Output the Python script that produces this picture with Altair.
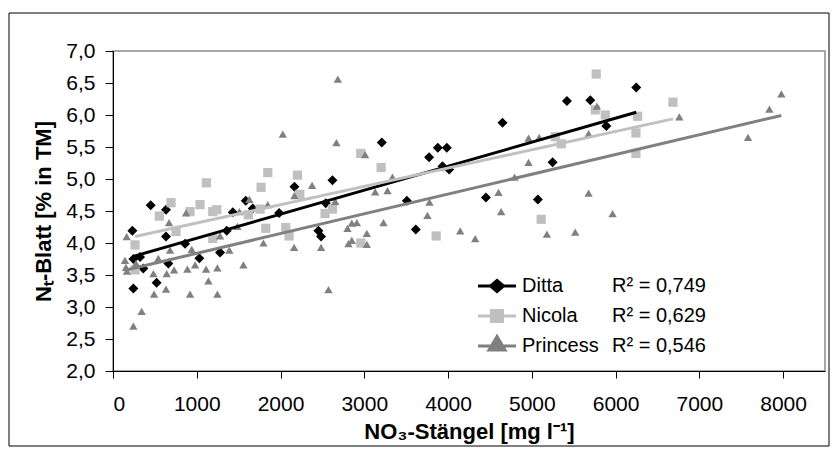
import altair as alt
import pandas as pd

series_names = ["Ditta", "Nicola", "Princess"]
series_colors = ["#000000", "#c0c0c0", "#808080"]
r2_labels = ["R² = 0,749", "R² = 0,629", "R² = 0,546"]

x_ticks = [0, 1000, 2000, 3000, 4000, 5000, 6000, 7000, 8000]
y_ticks = [2.0, 2.5, 3.0, 3.5, 4.0, 4.5, 5.0, 5.5, 6.0, 6.5, 7.0]

ditta_x = [450, 633, 1585, 1668, 1430, 1983, 2540, 231, 633, 1358, 2452, 2484, 2620,
           2166, 860, 243, 323, 362, 661, 521, 243, 1031, 1278, 5419, 5698, 4650,
           3209, 3878, 3985, 3774, 3934, 4013, 5248, 3508, 4452, 5072, 3615, 6247, 5889]
ditta_y = [4.59, 4.52, 4.66, 4.54, 4.48, 4.47, 4.62, 4.19, 4.10, 4.19, 4.19, 4.10, 4.98,
           4.88, 3.99, 3.75, 3.78, 3.60, 3.68, 3.38, 3.29, 3.76, 3.85, 6.22, 6.23, 5.88,
           5.57, 5.49, 5.49, 5.34, 5.20, 5.15, 5.26, 4.66, 4.71, 4.68, 4.21, 6.43, 5.83]

nicola_x = [1848, 1115, 2202, 1768, 693, 553, 1039, 920, 1191, 1239, 1616, 1756, 2532,
            2620, 753, 1824, 2063, 2102, 263, 263, 1191, 2958, 3201, 5280, 5351, 3858,
            5112, 2958, 5769, 5757, 5877, 6685, 6263, 6243, 6243, 2230]
nicola_y = [5.10, 4.94, 5.06, 4.87, 4.63, 4.42, 4.60, 4.49, 4.49, 4.52, 4.44, 4.53, 4.46,
            4.53, 4.18, 4.23, 4.24, 4.11, 3.97, 3.58, 4.07, 5.40, 5.18, 5.66, 5.55, 4.11,
            4.37, 4.00, 6.64, 6.08, 6.00, 6.20, 5.98, 5.72, 5.40, 4.76]

princess_x = [2684, 2027, 2667, 2377, 2166, 872, 1628, 1509, 1848, 2652, 669, 163, 1485,
              2799, 1278, 940, 681, 143, 155, 167, 275, 541, 729, 641, 482, 490, 633,
              342, 243, 888, 980, 920, 1111, 1139, 1246, 1246, 1389, 1557, 1796, 2162,
              2484, 2572, 2811, 3010, 4961, 5088, 5678, 4961, 3336, 3130, 3277, 4794,
              3778, 4602, 4634, 3754, 2851, 2911, 3229, 3030, 4145, 4324, 5180, 5518,
              5678, 2851, 3030, 5777, 6761, 7979, 7836, 7581, 5964]
princess_y = [6.56, 5.70, 5.57, 4.90, 4.74, 4.47, 4.68, 4.49, 4.60, 4.65, 4.32, 4.10, 4.26,
              4.23, 4.11, 3.90, 3.89, 3.73, 3.62, 3.56, 3.68, 3.76, 3.58, 3.52, 3.52, 3.20, 3.28,
              2.93, 2.70, 3.59, 3.66, 3.20, 3.59, 3.41, 3.20, 3.61, 3.89, 3.66, 4.00, 3.93,
              3.93, 3.27, 3.99, 5.38, 5.64, 5.65, 5.71, 5.26, 5.03, 4.80, 4.82, 5.03,
              4.64, 4.79, 4.49, 4.43, 4.31, 4.32, 4.32, 4.15, 4.19, 4.07, 4.14, 4.17,
              4.78, 4.04, 3.98, 6.14, 5.97, 6.33, 6.09, 5.65, 4.46]

rows = []
for name, xs, ys in [("Ditta", ditta_x, ditta_y), ("Nicola", nicola_x, nicola_y),
                     ("Princess", princess_x, princess_y)]:
    for a, b in zip(xs, ys):
        rows.append({"series": name, "x": a, "y": b})
df = pd.DataFrame(rows)

FONT = "Liberation Sans"

x_enc = alt.X("x:Q", scale=alt.Scale(domain=[0, 8500], nice=False, zero=False),
              axis=alt.Axis(values=x_ticks, format="d", title="NO₃-Stängel [mg l⁻¹]",
                            tickSize=7, labelPadding=15, titlePadding=7,
                            labelOverlap=False))
y_enc = alt.Y("y:Q", scale=alt.Scale(domain=[2, 7], nice=False, zero=False),
              axis=alt.Axis(values=y_ticks, format=".1f",
                            labelExpr="replace(datum.label, '.', ',')",
                            title="Nₜ-Blatt [% in TM]", tickSize=8, labelPadding=10,
                            titlePadding=10, labelOverlap=False))

color_scale = alt.Scale(domain=series_names, range=series_colors)

points = alt.Chart(df).mark_point(filled=True, opacity=1, strokeWidth=0).encode(
    x=x_enc, y=y_enc,
    color=alt.Color("series:N", scale=color_scale, legend=None),
    shape=alt.Shape("series:N", scale=alt.Scale(domain=series_names,
                                                range=["diamond", "square", "triangle-up"]),
                    legend=None),
    size=alt.Size("series:N", scale=alt.Scale(domain=series_names, range=[100, 70, 121]),
                  legend=None),
)

lines = alt.Chart(df).transform_regression("x", "y", groupby=["series"]).mark_line(
    strokeWidth=3).encode(
    x=x_enc, y=y_enc,
    color=alt.Color("series:N", scale=color_scale, legend=None),
)

legend_paths = [
    "M-3.8,0L3.8,0M0,-1.1L1.3,0L0,1.1L-1.3,0Z",
    "M-3.8,0L3.8,0M-1.1,-1.1L1.1,-1.1L1.1,1.1L-1.1,1.1Z",
    "M-3.8,0L3.8,0M-1.6,0.8L0,-1.9L1.6,0.8Z",
]

legend_df = pd.DataFrame({"series": series_names, "r2": r2_labels})

leg_common = dict(orient="none", title=None, padding=0, symbolSize=100,
                  symbolStrokeWidth=3, labelFont=FONT, labelFontSize=20,
                  labelColor="black", labelLimit=300, rowPadding=2, gridAlign="all")


def leg1():
    return alt.Legend(legendX=374, legendY=225, labelOffset=15, **leg_common)


def leg2():
    return alt.Legend(legendX=479, legendY=225, labelOffset=0, **leg_common)


legend1 = alt.Chart(legend_df).transform_filter("false").mark_point(
    filled=True, opacity=1).encode(
    fill=alt.Fill("series:N", scale=color_scale, legend=leg1()),
    stroke=alt.Stroke("series:N", scale=color_scale, legend=leg1()),
    shape=alt.Shape("series:N", scale=alt.Scale(domain=series_names, range=legend_paths),
                    legend=leg1()),
)

r2_scale = alt.Scale(domain=r2_labels, range=["transparent", "transparent", "transparent"])
legend2 = alt.Chart(legend_df).transform_filter("false").mark_point(
    filled=True, opacity=1).encode(
    fill=alt.Fill("r2:N", scale=r2_scale, legend=leg2()),
    stroke=alt.Stroke("r2:N", scale=r2_scale, legend=leg2()),
    shape=alt.Shape("r2:N", scale=alt.Scale(domain=r2_labels, range=legend_paths),
                    legend=leg2()),
)

frame = alt.Chart(pd.DataFrame({"f": [0]})).mark_rect(
    fill="transparent", stroke="black", strokeWidth=1).encode(
    x=alt.value(-104), x2=alt.value(716), y=alt.value(-38), y2=alt.value(395))

chart = alt.layer(frame, points, lines, legend1, legend2).resolve_scale(
    color="independent", shape="independent", fill="independent",
    stroke="independent", size="independent"
).properties(
    width=712, height=320,
    autosize=alt.AutoSizeParams(type="none"),
    padding={"left": 105, "top": 43, "right": 5, "bottom": 76},
    background="white",
).configure_axis(
    labelFont=FONT, labelFontSize=21, labelColor="black",
    titleFont=FONT, titleFontSize=22, titleFontWeight="bold", titleColor="black",
    domainColor="black", domainWidth=1, tickColor="black", tickWidth=1, grid=False,
).configure_view(stroke="#8c8c8c", strokeWidth=1.5)

chart.save("out.html", embed_options={"renderer": "svg", "actions": False})
